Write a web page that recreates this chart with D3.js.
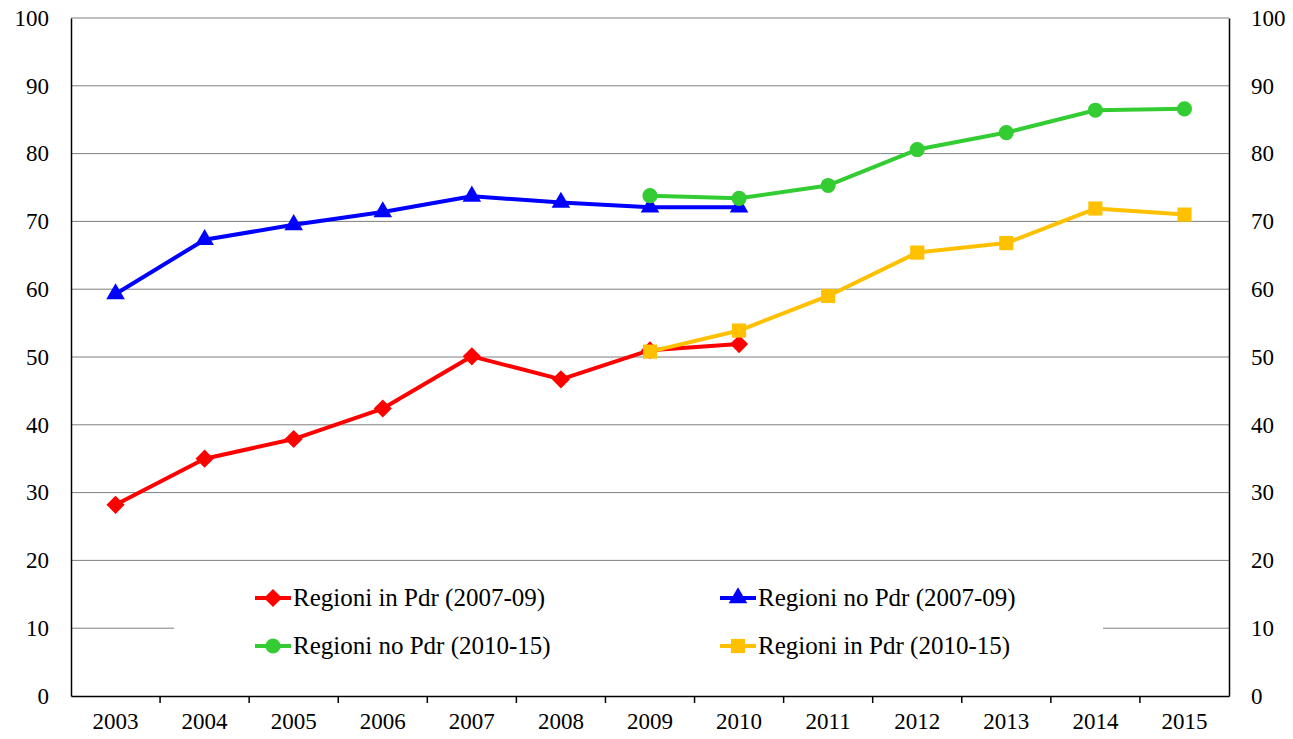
<!DOCTYPE html>
<html>
<head>
<meta charset="utf-8">
<script src="https://cdn.jsdelivr.net/npm/d3@7"></script>
<style>
  body { margin: 0; background: #fff; }
</style>
</head>
<body>
<div class="area"></div>
<script>
var years = ['2003', '2004', '2005', '2006', '2007', '2008', '2009', '2010', '2011', '2012', '2013', '2014', '2015'];
var redIn = [28.2, 35.0, 37.9, 42.4, 50.1, 46.7, 51.0, 51.9, null, null, null, null, null];
var blueNo = [59.3, 67.3, 69.5, 71.4, 73.7, 72.8, 72.1, 72.1, null, null, null, null, null];
var greenNo = [null, null, null, null, null, null, 73.8, 73.4, 75.3, 80.6, 83.1, 86.4, 86.6];
var yellowIn = [null, null, null, null, null, null, 50.8, 53.9, 59.0, 65.4, 66.8, 71.9, 71.0];
var yTicks = [0, 10, 20, 30, 40, 50, 60, 70, 80, 90, 100];

var series = [
  {name: 'Regioni in Pdr (2007-09)', values: redIn, color: '#ff0000', symbol: d3.symbolSquare, size: 165, rot: 45},
  {name: 'Regioni no Pdr (2007-09)', values: blueNo, color: '#0000ff', symbol: d3.symbolTriangle, size: 150, rot: 0},
  {name: 'Regioni no Pdr (2010-15)', values: greenNo, color: '#33cc33', symbol: d3.symbolCircle, size: 180, rot: 0},
  {name: 'Regioni in Pdr (2010-15)', values: yellowIn, color: '#ffc000', symbol: d3.symbolSquare, size: 200, rot: 0}
];

var W = 1293, H = 739;
var mLeft = 71, mRight = 1229, mTop = 18, mBottom = 696;
var serif = "Liberation Serif";

var svg = d3.select(".area")
    .append("svg")
    .attr('width', W)
    .attr('height', H)
    .attr('font-family', serif)

var x = d3.scaleBand().domain(years).range([mLeft, mRight]);
var y = d3.scaleLinear().domain([0, 100]).range([mBottom, mTop]);

// gridlines
svg.append("g")
    .selectAll("line")
    .data(yTicks.filter(function (d) { return d > 0; }))
    .join("line")
    .attr("x1", mLeft)
    .attr("x2", mRight)
    .attr("y1", function (d) { return y(d); })
    .attr("y2", function (d) { return y(d); })
    .style("stroke", "#7f7f7f")
    .style("stroke-width", 1)

// left axis
var yl = svg.append("g")
    .attr("transform", "translate(" + mLeft + ",0)")
    .call(d3.axisLeft(y).tickValues(yTicks).tickSize(0).tickPadding(22));
yl.attr("font-family", serif).attr("font-size", 23);
yl.select(".domain").style("stroke", "#000").style("stroke-width", 1.5);
yl.selectAll("text").attr("fill", "#000");

// right axis
var yr = svg.append("g")
    .attr("transform", "translate(" + mRight + ",0)")
    .call(d3.axisRight(y).tickValues(yTicks).tickSize(0).tickPadding(22));
yr.attr("font-family", serif).attr("font-size", 23);
yr.select(".domain").style("stroke", "#000").style("stroke-width", 1.5);
yr.selectAll("text").attr("fill", "#000");

// bottom axis
var xa = svg.append("g")
    .attr("transform", "translate(0," + mBottom + ")")
    .call(d3.axisBottom(x).tickSize(0).tickPadding(17));
xa.attr("font-family", serif).attr("font-size", 23);
xa.select(".domain").style("stroke", "#000").style("stroke-width", 1.5);
xa.selectAll("text").attr("fill", "#000");

// tick marks between the years
svg.append("g")
    .selectAll("line")
    .data(years.slice(1))
    .join("line")
    .attr("x1", function (d) { return x(d); })
    .attr("x2", function (d) { return x(d); })
    .attr("y1", mBottom)
    .attr("y2", mBottom + 7)
    .style("stroke", "#000")
    .style("stroke-width", 1.5)

// legend box hides part of the grid
var legend = svg.append("g");
legend.append("rect")
    .attr("x", 174)
    .attr("y", 572)
    .attr("width", 929)
    .attr("height", 106)
    .attr("fill", "#fff")

var legendPos = [[255, 598], [720, 598], [255, 646], [720, 646]];

series.forEach(function (s, i) {
    var p = legendPos[i];
    legend.append("line")
        .attr("x1", p[0])
        .attr("x2", p[0] + 36)
        .attr("y1", p[1])
        .attr("y2", p[1])
        .style("stroke", s.color)
        .style("stroke-width", 4)
    legend.append("path")
        .attr("d", d3.symbol().type(s.symbol).size(s.size))
        .attr("transform", "translate(" + (p[0] + 18) + "," + p[1] + ") rotate(" + s.rot + ")")
        .attr("fill", s.color)
    legend.append("text")
        .attr("x", p[0] + 38)
        .attr("y", p[1] + 8)
        .text(s.name)
        .attr("font-family", serif)
        .attr("font-size", 25)
        .attr("fill", "#000")
});

// lines and markers
var line = d3.line()
    .defined(function (d) { return d != null; })
    .x(function (d, i) { return x(years[i]) + x.bandwidth() / 2; })
    .y(function (d) { return y(d); });

series.forEach(function (s) {
    svg.append("path")
        .attr("d", line(s.values))
        .attr("fill", "none")
        .style("stroke", s.color)
        .style("stroke-width", 4)
        .style("stroke-linejoin", "round")

    svg.append("g")
        .selectAll("path")
        .data(s.values.map(function (v, i) { return {v: v, i: i}; }).filter(function (d) { return d.v != null; }))
        .join("path")
        .attr("d", d3.symbol().type(s.symbol).size(s.size))
        .attr("transform", function (d) {
            return "translate(" + (x(years[d.i]) + x.bandwidth() / 2) + "," + y(d.v) + ") rotate(" + s.rot + ")";
        })
        .attr("fill", s.color)
});
</script>
</body>
</html>
